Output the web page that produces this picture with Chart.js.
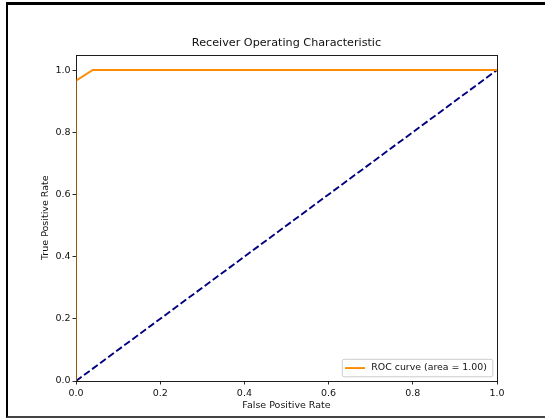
<!DOCTYPE html>
<html>
<head>
<meta charset="utf-8">
<script src="https://cdn.jsdelivr.net/npm/chart.js@4.4.1/dist/chart.umd.min.js"></script>
<style>
  html, body { margin: 0; padding: 0; background: #fff; }
  #wrap { position: relative; width: 545px; height: 418px; overflow: hidden; background: #fff; }
  #frame { position: absolute; left: 6px; top: 2px; width: 600px; height: 411px;
           border-top: 3px solid #000; border-left: 2px solid #000; border-bottom: 2px solid #444; }
  canvas { position: absolute; left: 0; top: 0; }
</style>
</head>
<body>
<div id="wrap">
  <canvas id="c" width="545" height="418"></canvas>
  <div id="frame"></div>
</div>
<script>
// ---- data ----
const rocFpr = [0.0, 0.0, 0.04, 1.0];
const rocTpr = [0.0, 0.966, 1.0, 1.0];
const diagX = [0.0, 1.0];
const diagY = [0.0, 1.0];
const xTicks = [0.0, 0.2, 0.4, 0.6, 0.8, 1.0];
const yTicks = [0.0, 0.2, 0.4, 0.6, 0.8, 1.0];
const rocLabel = 'ROC curve (area = 1.00)';
const titleText = 'Receiver Operating Characteristic';
const xLabel = 'False Positive Rate';
const yLabel = 'True Positive Rate';

const FONT = "'DejaVu Sans', sans-serif";
Chart.defaults.font.family = FONT;
Chart.defaults.color = '#111';

function strokeFrame(chart, alpha) {
  const {ctx, chartArea: a} = chart;
  ctx.save();
  ctx.globalAlpha = alpha;
  ctx.strokeStyle = '#111';
  ctx.lineWidth = 0.9;
  ctx.strokeRect(Math.round(a.left) + 0.5, Math.round(a.top) + 0.5,
                 Math.round(a.right) - Math.round(a.left), Math.round(a.bottom) - Math.round(a.top));
  ctx.restore();
}

const frameAndLegend = {
  id: 'frameAndLegend',
  beforeDatasetsDraw(chart) { strokeFrame(chart, 1); },
  afterDatasetsDraw(chart) { strokeFrame(chart, 0.45); },
  afterDraw(chart) {
    const {ctx, chartArea: a} = chart;
    const ds = chart.data.datasets[0];
    ctx.save();
    ctx.font = '9.4px ' + FONT;
    const tw = ctx.measureText(ds.label).width;
    const h = 17.5;
    const w = 3.2 + 20 + 6.3 + tw + 5.4;
    const x = a.right - 4.7 - w;
    const y = a.bottom - 4.7 - h;
    ctx.beginPath();
    ctx.roundRect(x + 0.5, y + 0.5, w, h, 2);
    ctx.fillStyle = 'rgba(255,255,255,0.8)';
    ctx.fill();
    ctx.strokeStyle = '#cccccc';
    ctx.lineWidth = 1;
    ctx.stroke();
    const cy = y + h / 2 + 0.5;
    ctx.beginPath();
    ctx.moveTo(x + 3.2, cy);
    ctx.lineTo(x + 23.2, cy);
    ctx.strokeStyle = ds.borderColor;
    ctx.lineWidth = ds.borderWidth;
    ctx.stroke();
    ctx.fillStyle = '#111';
    ctx.textBaseline = 'middle';
    ctx.textAlign = 'left';
    ctx.fillText(ds.label, x + 29.5, cy);
    ctx.restore();
  }
};

new Chart(document.getElementById('c'), {
  type: 'scatter',
  data: {
    datasets: [
      {
        label: rocLabel,
        data: rocFpr.map((v, i) => ({x: v, y: rocTpr[i]})),
        showLine: true,
        borderColor: '#ff8c00',
        backgroundColor: '#ff8c00',
        borderWidth: 1.9,
        pointRadius: 0,
        tension: 0,
        fill: false
      },
      {
        label: 'chance',
        data: diagX.map((v, i) => ({x: v, y: diagY[i]})),
        showLine: true,
        borderColor: '#000080',
        backgroundColor: '#000080',
        borderWidth: 1.9,
        borderDash: [7, 3],
        pointRadius: 0,
        tension: 0,
        fill: false
      }
    ]
  },
  options: {
    responsive: false,
    animation: false,
    devicePixelRatio: 1,
    layout: { padding: { left: 0, right: 48, top: 0, bottom: 0 } },
    plugins: {
      legend: { display: false },
      tooltip: { enabled: false },
      title: { display: false }
    },
    scales: {
      x: {
        type: 'linear',
        min: 0, max: 1,
        afterFit(s) { s.height = 37; },
        afterBuildTicks(s) { s.ticks = xTicks.map(v => ({value: v})); },
        border: { display: false },
        grid: { display: true, drawOnChartArea: false, drawTicks: true, tickLength: 3.5, tickColor: '#111', tickWidth: 0.9 },
        ticks: { padding: 3, maxRotation: 0, autoSkip: false, font: { size: 9.5 }, callback: v => v.toFixed(1) },
        title: { display: true, text: xLabel, font: { size: 9.5 }, padding: { top: 0, bottom: 7.2 } }
      },
      xTop: {
        type: 'linear',
        position: 'top',
        min: 0, max: 1,
        afterFit(s) { s.height = 54.5; },
        border: { display: false },
        grid: { display: false },
        ticks: { display: false },
        title: { display: true, text: titleText, color: '#111',
                 font: { size: 11.2, lineHeight: 1.2 }, padding: { top: 36.6, bottom: 0 } }
      },
      y: {
        type: 'linear',
        min: 0, max: 1.05,
        afterFit(s) { s.width = 76; },
        afterBuildTicks(s) { s.ticks = yTicks.map(v => ({value: v})); },
        border: { display: false },
        grid: { display: true, drawOnChartArea: false, drawTicks: true, tickLength: 3.5, tickColor: '#111', tickWidth: 0.9 },
        ticks: { padding: 2, autoSkip: false, font: { size: 9.5 }, callback: v => v.toFixed(1) },
        title: { display: true, text: yLabel, font: { size: 9.5 }, padding: { top: 40, bottom: 0 } }
      }
    }
  },
  plugins: [frameAndLegend]
});
</script>
</body>
</html>
